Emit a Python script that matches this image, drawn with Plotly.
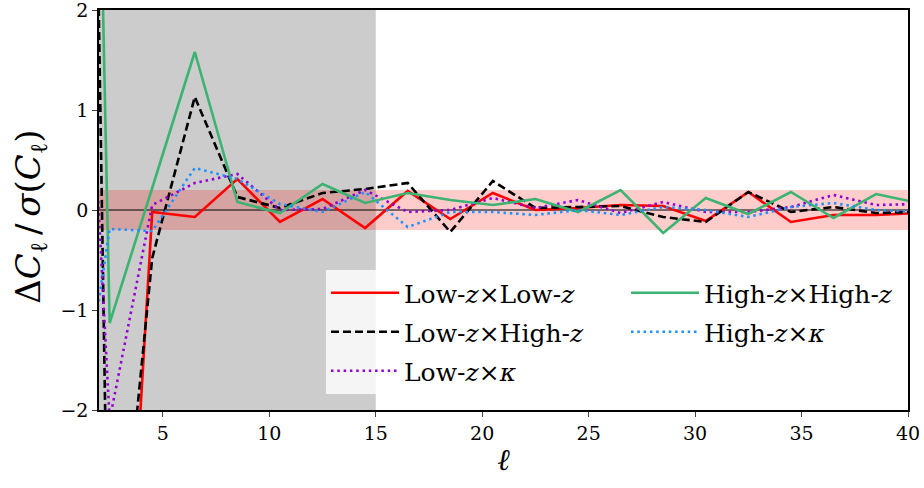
import plotly.graph_objects as go

# multipole bin centres
ell = [1.5, 2.5, 4.5, 6.5, 8.5, 10.5, 12.5, 14.5, 16.5, 18.5, 20.5,
       22.5, 24.5, 26.5, 28.5, 30.5, 32.5, 34.5, 36.5, 38.5, 40.5]

low_low = [-6.0, -7.2, -0.02, -0.07, 0.31, -0.12, 0.11, -0.18, 0.19, -0.09, 0.17,
           0.00, 0.02, 0.05, 0.04, -0.11, 0.18, -0.12, -0.05, -0.05, -0.03]
low_high = [8.5, -4.8, -0.48, 1.13, 0.13, 0.02, 0.17, 0.21, 0.27, -0.22, 0.29,
            0.02, 0.03, 0.04, -0.07, -0.12, 0.18, -0.02, 0.03, -0.03, -0.02]
low_kappa = [1.98, -2.1, 0.05, 0.27, 0.36, 0.00, 0.01, 0.20, -0.02, 0.00, 0.12,
             0.02, 0.10, -0.03, 0.08, -0.02, -0.02, 0.03, 0.15, 0.05, 0.06]
high_high = [9.0, -1.13, 0.22, 1.58, 0.08, -0.03, 0.26, 0.07, 0.17, 0.10, 0.05,
             0.11, -0.02, 0.20, -0.23, 0.12, -0.04, 0.18, -0.08, 0.16, 0.07]
high_kappa = [-1.6, -0.19, -0.21, 0.42, 0.31, 0.06, -0.02, 0.18, -0.17, -0.02, -0.02,
              -0.05, 0.00, -0.05, 0.03, 0.00, -0.07, 0.03, 0.07, 0.00, -0.02]

series_names = ["Low-<i>z</i>×Low-<i>z</i>", "Low-<i>z</i>×High-<i>z</i>",
                "Low-<i>z</i>×<i>κ</i>", "High-<i>z</i>×High-<i>z</i>",
                "High-<i>z</i>×<i>κ</i>"]
y_title = "Δ<i>C</i><sub>ℓ</sub>\u2009/\u2009<i>σ</i>(<i>C</i><sub>ℓ</sub>)"
x_title = "<i>ℓ</i>"

x_ticks = [5, 10, 15, 20, 25, 30, 35, 40]
y_ticks = [-2, -1, 0, 1, 2]
x_range = [2, 40]
y_range = [-2, 2]
excluded_lmax = 15
band_half = 0.2

FONT = "DejaVu Serif"

fig = go.Figure()

styles = [
    dict(color="#ff0000", width=2.6, dash="solid"),
    dict(color="#000000", width=2.6, dash="8px,4px"),
    dict(color="#9400d3", width=2.6, dash="2.5px,3.8px"),
    dict(color="#3cb371", width=2.6, dash="solid"),
    dict(color="#1e90ff", width=2.6, dash="2.5px,3.8px"),
]
legend_ids = ["legend", "legend", "legend", "legend2", "legend2"]
for i, (ys, name, st, lg) in enumerate(zip(
        [low_low, low_high, low_kappa, high_high, high_kappa],
        series_names, styles, legend_ids)):
    fig.add_trace(go.Scatter(x=ell, y=ys, mode="lines", name=name, line=st,
                             legend=lg, legendgroup=f"g{i}"))

# shaded excluded region and error band
fig.add_shape(type="rect", xref="x", yref="paper", x0=x_range[0], x1=excluded_lmax,
              y0=0, y1=1, fillcolor="#cccccc", line_width=0, layer="below")
fig.add_shape(type="rect", xref="paper", yref="y", x0=0, x1=1, y0=-band_half,
              y1=band_half, fillcolor="rgba(255,0,0,0.2)", line_width=0, layer="below")
fig.add_shape(type="line", xref="paper", yref="y", x0=0, x1=1, y0=0, y1=0,
              line=dict(color="black", width=1), layer="below")

fig.add_annotation(text=y_title, textangle=-90, xref="paper", yref="paper",
                   x=(31 - 99) / 809, y=0.483, xanchor="center", yanchor="middle",
                   showarrow=False, font=dict(family=FONT, size=34))

legend_common = dict(orientation="v", xanchor="left", yanchor="top", itemwidth=68,
                     borderwidth=0, font=dict(family=FONT, size=25),
                     traceorder="grouped", tracegroupgap=3.5)
fig.update_layout(
    width=924, height=488,
    margin=dict(l=99, r=16, t=10, b=78, autoexpand=False),
    plot_bgcolor="white", paper_bgcolor="white",
    font=dict(family=FONT, size=19, color="black"),
    legend=dict(x=(326 - 99) / 809, y=0.35, bgcolor="rgba(255,255,255,0.8)",
                **legend_common),
    legend2=dict(x=(626 - 99) / 809, y=0.35, bgcolor="rgba(255,255,255,0)",
                 **legend_common),
    showlegend=True,
)
fig.update_xaxes(range=x_range, tickvals=x_ticks, ticks="outside", ticklen=5,
                 tickwidth=1.2, showline=True, linewidth=1.5, linecolor="black",
                 mirror=True, showgrid=False, zeroline=False,
                 ticklabeloverflow="allow",
                 title=dict(text=x_title, font=dict(size=30), standoff=6))
fig.update_yaxes(range=y_range, tickvals=y_ticks, ticks="outside", ticklen=5,
                 tickwidth=1.2, showline=True, linewidth=1.5, linecolor="black",
                 mirror=True, showgrid=False, zeroline=False,
                 ticklabeloverflow="allow")

fig.write_html("out.html")
